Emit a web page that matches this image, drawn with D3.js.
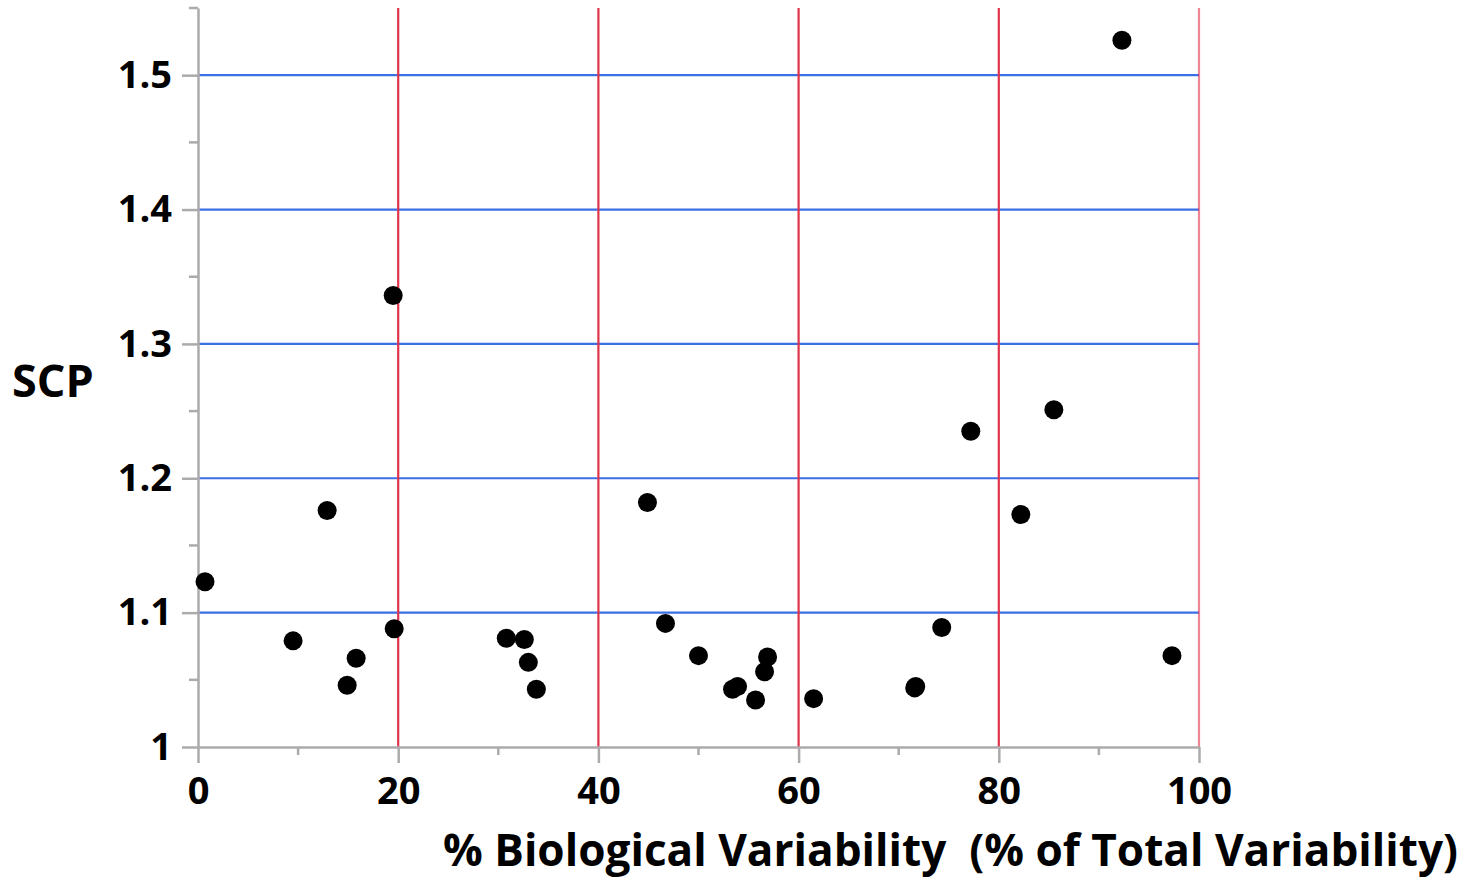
<!DOCTYPE html>
<html>
<head>
<meta charset="utf-8">
<script src="https://cdn.jsdelivr.net/npm/d3@7"></script>
<style>
  body { margin: 0; background: #fff; }
  text { font-family: "Open Sans", "Noto Sans", sans-serif; font-weight: 700; fill: #000; }
</style>
</head>
<body>
<script>
// % biological variability vs SCP
var bioVar = [0.7, 9.5, 12.9, 14.9, 15.8, 19.5, 19.6, 30.8, 32.6, 33.0, 33.8,
  44.9, 46.7, 50.0, 53.4, 53.9, 55.7, 56.6, 56.9, 61.5, 71.6, 71.7, 74.3,
  77.2, 82.2, 85.5, 92.3, 97.3];
var scp = [1.123, 1.079, 1.176, 1.046, 1.066, 1.336, 1.088, 1.081, 1.080, 1.063, 1.043,
  1.182, 1.092, 1.068, 1.043, 1.045, 1.035, 1.056, 1.067, 1.036, 1.044, 1.045, 1.089,
  1.235, 1.173, 1.251, 1.526, 1.068];
var xTicks = [0, 20, 40, 60, 80, 100];
var yTicks = [1, 1.1, 1.2, 1.3, 1.4, 1.5];
var xMinor = [10, 30, 50, 70, 90];
var yMinor = [1.05, 1.15, 1.25, 1.35, 1.45, 1.55];

var width = 1464, height = 878;
var margin = ({ top: 8, right: 265, bottom: 131, left: 198 });

var svg = d3.select('body').append('svg')
    .attr('width', width)
    .attr('height', height);

var x = d3.scaleLinear()
    .domain([0, 100])
    .range([margin.left, width - margin.right]);

var y = d3.scaleLinear()
    .domain([1, 1.55])
    .range([height - margin.bottom, margin.top]);

var data = bioVar.map((v, i) => ({ x: v, y: scp[i] }));

// horizontal grid lines (blue)
svg.append("g")
    .attr("stroke", "#3b6fe6")
    .attr("stroke-width", 2.2)
    .selectAll("line")
    .data(yTicks.slice(1))
    .enter().append("line")
    .attr("x1", x(0)).attr("x2", x(100))
    .attr("y1", d => y(d)).attr("y2", d => y(d));

// vertical grid lines (red)
svg.append("g")
    .attr("stroke", "#e0344d")
    .attr("stroke-width", 2.2)
    .selectAll("line")
    .data(xTicks.slice(1))
    .enter().append("line")
    .attr("stroke-opacity", d => d == 100 ? 0.6 : 1)
    .attr("x1", d => x(d)).attr("x2", d => x(d))
    .attr("y1", y(1.55)).attr("y2", y(1));

var xAxis = g => g
    .attr("transform", `translate(0,${y(1)})`)
    .call(d3.axisBottom(x).tickValues(xTicks).tickSize(16).tickSizeOuter(0).tickPadding(14))
    .call(g => g.selectAll(".tick text").attr("font-size", 38).attr("font-family", null))
    .call(g => g.append("g").selectAll("line").data(xMinor).enter().append("line")
        .attr("x1", d => x(d)).attr("x2", d => x(d)).attr("y1", 0).attr("y2", 8));

var yAxis = g => g
    .attr("transform", `translate(${x(0)},0)`)
    .call(d3.axisLeft(y).tickValues(yTicks).tickFormat(d3.format("")).tickSize(16).tickSizeOuter(0).tickPadding(10))
    .call(g => g.selectAll(".tick text").attr("font-size", 38).attr("font-family", null))
    .call(g => g.append("g").selectAll("line").data(yMinor).enter().append("line")
        .attr("x1", 0).attr("x2", -9).attr("y1", d => y(d)).attr("y2", d => y(d)));

svg.append("g").call(xAxis);
svg.append("g").call(yAxis);

svg.selectAll(".domain, .tick line, g g line")
    .attr("stroke", "#ababab")
    .attr("stroke-width", 2.5);

// points
svg.append("g")
    .attr("fill", "#000")
    .selectAll("circle")
    .data(data)
    .enter()
    .append("circle")
    .attr("cx", d => x(d.x))
    .attr("cy", d => y(d.y))
    .attr("r", 9.5);

// axis titles
svg.append("text")
    .attr("x", 12).attr("y", 397)
    .attr("font-size", 45)
    .text("SCP");

svg.append("text")
    .attr("x", 443).attr("y", 866)
    .attr("font-size", 44)
    .attr("textLength", 1015)
    .attr("lengthAdjust", "spacingAndGlyphs")
    .attr("xml:space", "preserve")
    .text("% Biological Variability  (% of Total Variability)");
</script>
</body>
</html>
